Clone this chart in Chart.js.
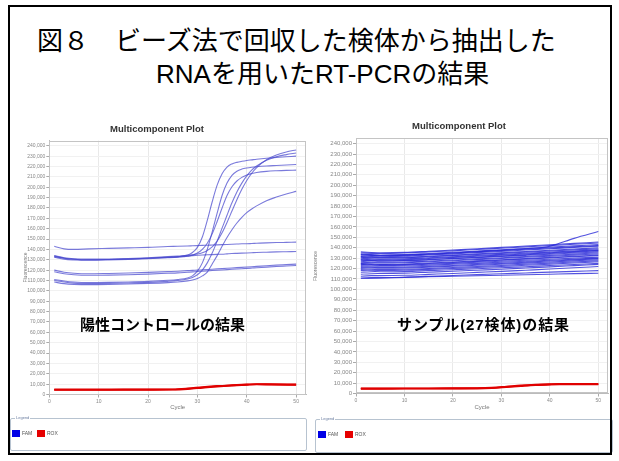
<!DOCTYPE html>
<html>
<head>
<meta charset="utf-8">
<script src="https://cdn.jsdelivr.net/npm/chart.js@4"></script>
<style>
html,body{margin:0;padding:0;background:#fff;}
body{width:619px;height:461px;position:relative;overflow:hidden;font-family:"Noto Sans CJK JP",sans-serif;}
.frame{position:absolute;left:8px;top:5px;width:600px;height:446px;border:2px solid #000;pointer-events:none;z-index:6;}
.ttl{position:absolute;font-family:"Liberation Sans","Noto Sans CJK JP",sans-serif;font-size:26px;line-height:30px;white-space:nowrap;color:#000;}
canvas{position:absolute;}
.note{position:absolute;font-family:"Liberation Sans","Noto Sans CJK JP",sans-serif;font-weight:bold;font-size:15px;line-height:18px;white-space:nowrap;color:#000;z-index:3;}
.legend{position:absolute;border:1.5px solid #b7c3d0;border-radius:2px;background:#fff;font-family:"Liberation Sans",sans-serif;color:#555;z-index:2;}
.legend .cap{position:absolute;left:4px;top:-4px;font-size:4px;line-height:5px;background:#fff;color:#6a7da0;padding:0 1px;}
.legend .sw{position:absolute;width:8px;height:7px;}
.legend .lb{position:absolute;font-size:5px;line-height:7px;}
</style>
</head>
<body>
<div class="frame"></div>
<div class="ttl" style="left:37px;top:26px;">図８　ビーズ法で回収した検体から抽出した</div>
<div class="ttl" style="left:156px;top:59px;">RNAを用いたRT-PCRの結果</div>

<canvas id="posChart" width="302" height="298" style="left:8px;top:118px;"></canvas>
<canvas id="sampleChart" width="315" height="301" style="left:310px;top:115px;"></canvas>

<div class="note" style="left:80px;top:316px;">陽性コントロールの結果</div>
<div class="note" style="left:397px;top:316px;letter-spacing:0.9px;">サンプル(27検体)の結果</div>

<div class="legend" style="left:10px;top:418px;width:295px;height:31px;">
  <span class="cap">Legend</span>
  <span class="sw" style="left:1px;top:11px;background:#0000e6;"></span><span class="lb" style="left:11px;top:11px;">FAM</span>
  <span class="sw" style="left:26px;top:11px;background:#e60000;"></span><span class="lb" style="left:36px;top:11px;">ROX</span>
</div>
<div class="legend" style="left:315px;top:419px;width:296px;height:32px;">
  <span class="cap">Legend</span>
  <span class="sw" style="left:2px;top:11px;background:#0000e6;"></span><span class="lb" style="left:12px;top:11px;">FAM</span>
  <span class="sw" style="left:29px;top:11px;background:#e60000;"></span><span class="lb" style="left:39px;top:11px;">ROX</span>
</div>

<script>
// Fluorescence values below are in thousands of units.
const UNIT = 1000;

// Axis ticks
const cycleTicks = [0, 10, 20, 30, 40, 50];
const fluorTicks = [0, 10000, 20000, 30000, 40000, 50000, 60000, 70000, 80000, 90000, 100000,
  110000, 120000, 130000, 140000, 150000, 160000, 170000, 180000, 190000, 200000,
  210000, 220000, 230000, 240000];

// Positive control wells (FAM)
const cyclesPos = [1,3,5,8,12,16,20,24,26,28,29,30,31,32,33,34,35,36,37,38,39,40,41,42,44,46,48,50];
const posFlat1 = [143,140.5,140,140.5,141,141.5,142,142.8,143,143.3,143.5,143.7,143.9,144,144.2,144.4,144.6,144.8,145,145.2,145.4,145.5,145.7,145.9,146.3,146.6,146.8,147];
const posFlat2 = [133,131.5,130.5,130,130.3,130.8,131.5,132.3,132.8,133.5,134,134.3,134.6,134.8,135,135.2,135.4,135.7,136,136.2,136.4,136.6,136.8,137,137.3,137.6,137.8,138];
const posFlat3 = [120,118,117,116.5,116.8,117.2,117.8,118.6,119,119.5,119.8,120,120.3,120.6,120.9,121.2,121.5,121.8,122.1,122.4,122.7,123,123.3,123.6,124.2,124.8,125.3,125.8];
const posFlat4 = [118.5,116.5,115.5,115,115.2,115.6,116.2,117,117.4,118,118.3,118.7,119,119.3,119.6,119.9,120.2,120.5,120.8,121.1,121.4,121.7,122,122.3,122.9,123.5,124,124.5];
const posAmp1 = [133.5,131.5,130.5,130,130.2,130.8,131.5,132.5,133,134.5,137,142,152,168,186,202,213,219.5,222.5,224,225,225.8,226.4,227,228,228.8,229.4,230];
const posAmp2 = [111,109.5,108.5,108,108.2,108.6,109.2,110.2,111,112.5,114.5,119,127,140,157,175,192,204,211.5,215.5,217.5,218.6,219.3,219.8,220.5,221,221.5,222];
const posAmp3 = [132.5,130.5,129.8,129.5,129.8,130.3,131,132,132.6,133.5,134.5,136.5,140,146,155,167,180,192,200.5,206,209.5,211.8,213.2,214.2,215.3,215.9,216.3,216.5];
const posAmp4 = [134,132,131,130.6,130.8,131.3,132,133,133.6,134.3,134.8,135.5,136.8,139,142.5,148,156,166,177,188,198,206.5,213.5,219,226.5,231,234,236];
const posAmp5 = [110,108.5,107.5,107,107.2,107.6,108.2,109.2,110,111.5,113,115.5,120,127,136.5,148,160.5,173,185,195.5,204,211,216.5,220.5,226,229.5,231.5,233];
const posAmp6 = [108.5,107,106.3,106,106.2,106.6,107.2,108,108.6,109.6,110.5,112,114.5,118,126,134,143,151.5,159,165.5,171,175.5,179,182,187,190.5,193.5,196];

// Passive reference dye (ROX)
const cyclesRox = [1,5,10,15,20,25,28,31,34,37,40,42,45,50];
const posRox1 = [4.6,4.6,4.6,4.7,4.7,4.8,5.5,6.8,7.9,8.8,9.5,9.9,9.7,9.5];
const posRox2 = [4.3,4.3,4.4,4.4,4.5,4.6,5.2,6.4,7.6,8.5,9.2,9.6,9.5,9.2];
const posRox3 = [4.9,4.9,4.9,5.0,5.0,5.1,5.9,7.2,8.3,9.1,9.8,10.2,10.0,9.8];
const sampleRox1 = [4.7,4.7,4.8,4.8,4.9,5.0,5.4,6.4,7.4,8.3,8.8,9.0,9.0,9.0];
const sampleRox2 = [4.4,4.4,4.5,4.5,4.6,4.7,5.1,6.0,7.0,7.9,8.4,8.6,8.7,8.7];
const sampleRox3 = [5.0,5.0,5.1,5.1,5.2,5.3,5.7,6.7,7.8,8.6,9.1,9.3,9.3,9.4];

// 27 sample wells (FAM)
const cyclesSample = [1,5,10,15,20,25,30,35,40,45,50];
const sampleWells = [
  [136,135.2,135.5,136.6,137.8,139,140.3,141.6,142.9,144.2,145.5],
  [135,134.5,135,136,137,138.3,139.5,140.8,142,143.3,144.5],
  [134,133,133.4,134.5,135.6,136.8,138,139.3,140.6,141.8,143],
  [133,132.3,132.8,133.8,135,136.3,137.6,139,141.5,149,155.5],
  [133.5,132.6,132.9,133.8,134.9,136,137.3,138.5,139.7,140.9,142],
  [132,131.4,131.9,133,134.1,135.3,136.5,137.8,139,140.3,141.5],
  [131.5,130.5,130.8,131.8,132.9,134.1,135.2,136.4,137.6,138.8,140],
  [131,130.2,130.4,131.3,132.4,133.5,134.6,135.7,136.8,137.9,139],
  [130,129,129.4,130.4,131.4,132.5,133.6,134.7,135.8,136.9,138],
  [129,128.3,128.6,129.6,130.7,131.8,132.9,134,135.2,136.3,137.5],
  [128.5,127.4,127.7,128.7,129.8,130.9,132.1,133.3,134.5,135.7,137],
  [128,127.2,127.5,128.4,129.4,130.5,131.6,132.7,133.8,134.9,136],
  [127,126,126.3,127.2,128.2,129.3,130.4,131.6,132.7,133.9,135],
  [126,125.3,125.6,126.5,127.5,128.6,129.7,130.8,131.8,132.9,134],
  [125,124,124.4,125.3,126.3,127.4,128.5,129.6,130.7,131.8,133],
  [124.5,123.6,123.9,124.8,125.8,126.9,128,129.1,130.2,131.3,132.5],
  [124,123.1,123.3,124.1,125,126,127,128,129,130,131],
  [123,122.2,122.4,123.2,124.1,125,126,127,128,129,130],
  [122,121,121.3,122.1,123,124,125,126.1,127.2,128.3,129.5],
  [121,120.3,120.5,121.3,122.2,123.1,124.1,125.2,126.3,127.4,128.5],
  [120,119.1,119.3,120.1,121,122,123,124.1,125.2,126.3,127.5],
  [119,118.2,118.4,119.2,120.1,121,122,123.1,124.2,125.3,126.5],
  [118,117,117.2,118,118.9,119.8,120.8,121.8,122.9,123.9,125],
  [116,115.3,115.6,116.5,117.4,118.4,119.4,120.5,121.6,122.8,124],
  [114,113.2,113.5,114.4,115.3,116.3,117.3,118.4,119.5,120.7,122],
  [112,111.4,111.7,112.5,113.3,114.2,115,115.8,116.6,117.3,118],
  [110.5,110.8,111.5,112.1,112.6,113.1,113.6,114.1,114.6,115.1,115.5]
];

const POS_FAM_COLOR = 'rgba(70,70,205,0.72)';
const SAMPLE_FAM_COLOR = 'rgba(40,40,215,0.8)';
const ROX_COLOR = '#e00000';
const FONT = 'Liberation Sans';

Chart.defaults.font.family = FONT;

function toPoints(xs, ys) {
  return ys.map((v, i) => ({ x: xs[i], y: v * UNIT }));
}
function famSet(xs, ys, color) {
  return { data: toPoints(xs, ys), borderColor: color, borderWidth: 1.1,
    pointRadius: 0, cubicInterpolationMode: 'monotone', fill: false };
}
function roxSet(xs, ys) {
  return { data: toPoints(xs, ys), borderColor: ROX_COLOR, borderWidth: 1.6,
    pointRadius: 0, cubicInterpolationMode: 'monotone', fill: false };
}

// light frame around the plotting area
const plotFrame = {
  id: 'plotFrame',
  beforeDatasetsDraw(chart) {
    const { ctx, chartArea: a } = chart;
    ctx.save();
    ctx.strokeStyle = '#c4c4c4';
    ctx.lineWidth = 1;
    ctx.strokeRect(Math.round(a.left) + 0.5, Math.round(a.top) + 0.5,
      Math.round(a.right - a.left) - 1, Math.round(a.bottom - a.top) - 1);
    ctx.restore();
  }
};

function buildOptions(o) {
  return {
    responsive: false,
    devicePixelRatio: 1,
    animation: false,
    events: [],
    layout: { padding: { left: 0, right: o.padRight, top: 0, bottom: 0 } },
    plugins: {
      legend: { display: false },
      tooltip: { enabled: false },
      title: {
        display: true, text: 'Multicomponent Plot', color: '#333',
        font: { size: 9.5, weight: 'bold', family: FONT, lineHeight: 1.2 },
        padding: { top: o.titleTop, bottom: o.titleBottom }
      }
    },
    scales: {
      x: {
        type: 'linear', min: 0, max: 52,
        afterBuildTicks: s => { s.ticks = cycleTicks.map(v => ({ value: v })); },
        afterFit: s => { s.height = o.xHeight; },
        ticks: { color: '#888', font: { size: 5 }, padding: 1, maxRotation: 0, autoSkip: false },
        grid: { color: '#e9e9e9', tickLength: 3, tickColor: '#aaa' },
        border: { color: '#bbb' },
        title: { display: true, text: 'Cycle', color: '#777', font: { size: 6 },
          padding: { top: 0, bottom: 5.4 } }
      },
      y: {
        type: 'linear', min: 0, max: 245000,
        afterBuildTicks: s => { s.ticks = fluorTicks.map(v => ({ value: v })); },
        afterFit: s => { s.width = o.yWidth; },
        ticks: { color: '#888', font: { size: o.yFont }, padding: 1, autoSkip: false,
          callback: v => v.toLocaleString('en-US') },
        grid: { color: '#f1f1f1', tickLength: 3, tickColor: '#aaa' },
        border: { color: '#bbb' },
        title: { display: true, text: 'Fluorescence', color: '#777', font: { size: 5 },
          padding: { top: o.yTitlePad, bottom: 0 } }
      }
    }
  };
}

new Chart(document.getElementById('posChart'), {
  type: 'line',
  data: {
    datasets: [
      posFlat1, posFlat2, posFlat3, posFlat4,
      posAmp1, posAmp2, posAmp3, posAmp4, posAmp5, posAmp6
    ].map(w => famSet(cyclesPos, w, POS_FAM_COLOR)).concat([
      roxSet(cyclesRox, posRox1), roxSet(cyclesRox, posRox2), roxSet(cyclesRox, posRox3)
    ])
  },
  options: buildOptions({ padRight: 4, titleTop: 6, titleBottom: 5.2, xHeight: 21.5,
    yWidth: 41.3, yFont: 5, yTitlePad: 15 }),
  plugins: [plotFrame]
});

new Chart(document.getElementById('sampleChart'), {
  type: 'line',
  data: {
    datasets: sampleWells.map(w => famSet(cyclesSample, w, SAMPLE_FAM_COLOR)).concat([
      roxSet(cyclesRox, sampleRox1), roxSet(cyclesRox, sampleRox2), roxSet(cyclesRox, sampleRox3)
    ])
  },
  options: buildOptions({ padRight: 17, titleTop: 5.6, titleBottom: 6.4, xHeight: 22.5,
    yWidth: 46, yFont: 6, yTitlePad: 3 }),
  plugins: [plotFrame]
});
</script>
</body>
</html>
